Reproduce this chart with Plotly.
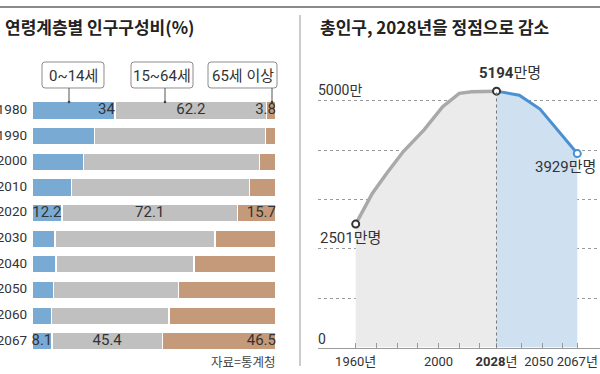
import plotly.graph_objects as go

# ---------------- data ----------------
bar_years = ["1980", "1990", "2000", "2010", "2020", "2030", "2040", "2050", "2060", "2067"]
young = [34.0, 25.6, 21.1, 16.1, 12.2, 9.5, 9.8, 8.8, 7.9, 8.1]
working = [62.2, 70.0, 72.1, 73.1, 72.1, 65.5, 56.5, 51.3, 48.2, 45.4]
old = [3.8, 4.4, 6.8, 10.8, 15.7, 25.0, 33.7, 39.9, 43.9, 46.5]
labeled_rows = ["1980", "2020", "2067"]
group_names = ["0~14세", "15~64세", "65세 이상"]

pop_years_past = [1960, 1968, 1975, 1983, 1993, 2002, 2010, 2016, 2028]
pop_past = [2501, 3120, 3530, 3970, 4410, 4880, 5150, 5180, 5194]
pop_years_future = [2028, 2039, 2049, 2058, 2067]
pop_future = [5194, 5110, 4830, 4390, 3929]
x_tickvals = [1960, 1970, 1980, 1990, 2000, 2010, 2020, 2028, 2040, 2050, 2060, 2067]
x_ticktext = ["1960년", "", "", "", "2000", "", "", "<b>2028</b>년", "", "2050\u00a0\u00a0", "", "2067년"]

# ---------------- style ----------------
W, H = 600, 374
NUM_FONT = "Roboto, Noto Sans CJK KR"
KR_FONT = "Noto Sans CJK KR"
BLUE = "#79aad4"
GRAY = "#c0c0c0"
TAN = "#c49a7a"
TXT = "#333333"


def px(x):
    return x / W


def py(y):
    return 1 - y / H


fig = go.Figure()

# ---------------- left: stacked bars ----------------
for vals, col in [(young, BLUE), (working, GRAY), (old, TAN)]:
    fig.add_trace(go.Bar(
        y=bar_years, x=vals, orientation="h", marker=dict(color=col, line=dict(color="white", width=1.5)),
        width=0.69, xaxis="x", yaxis="y", showlegend=False, hoverinfo="skip"))

# year labels left of the bars
fig.add_trace(go.Scatter(x=[-2.0] * len(bar_years), y=bar_years, text=bar_years, textposition="middle left",
                         mode="text", textfont=dict(family=NUM_FONT, size=13.5, color=TXT), cliponaxis=False,
                         xaxis="x", yaxis="y", showlegend=False, hoverinfo="skip"))

# value labels (text-only scatter on the bar axes)
lab_y, lab_x, lab_t, lab_p = [], [], [], []
for i, yr in enumerate(bar_years):
    if yr not in labeled_rows:
        continue
    if young[i] >= 20:
        lab_x.append(young[i])
        lab_p.append("middle left")
    else:
        lab_x.append(young[i] / 2)
        lab_p.append("middle center")
    lab_x += [young[i] + working[i] / 2, 100]
    lab_p += ["middle center", "middle left"]
    lab_y += [yr, yr, yr]
    lab_t += [f"{young[i]:g}", f"{working[i]:g}", f"{old[i]:g}"]
fig.add_trace(go.Scatter(x=lab_x, y=lab_y, text=lab_t, textposition=lab_p, mode="text",
                         textfont=dict(family=NUM_FONT, size=15, color=TXT), cliponaxis=False,
                         xaxis="x", yaxis="y", showlegend=False, hoverinfo="skip"))

# ---------------- right: population line ----------------
fig.add_trace(go.Scatter(x=pop_years_past, y=pop_past, mode="lines", line=dict(color="#a9a9a9", width=3.5),
                         fill="tozeroy", fillcolor="#ebebeb", xaxis="x2", yaxis="y2",
                         showlegend=False, hoverinfo="skip"))
fig.add_trace(go.Scatter(x=pop_years_future, y=pop_future, mode="lines", line=dict(color="#4a90d2", width=3),
                         fill="tozeroy", fillcolor="#cfe0f0", xaxis="x2", yaxis="y2",
                         showlegend=False, hoverinfo="skip"))
fig.add_trace(go.Scatter(x=[pop_years_past[0], pop_years_past[-1], pop_years_future[-1]],
                         y=[pop_past[0], pop_past[-1], pop_future[-1]], mode="markers",
                         marker=dict(size=7, color="white", line=dict(width=2, color=["#333333", "#333333", "#4a90d2"])),
                         xaxis="x2", yaxis="y2", showlegend=False, hoverinfo="skip", cliponaxis=False))

# ---------------- shapes ----------------
shapes = []
shapes.append(dict(type="line", xref="paper", yref="paper", x0=0, x1=1, y0=py(7), y1=py(7),
                   line=dict(color="#8a8a8a", width=2)))
shapes.append(dict(type="line", xref="paper", yref="paper", x0=px(300), x1=px(300), y0=py(15), y1=py(366),
                   line=dict(color="#999999", width=1)))
# 2028 dotted vertical
shapes.append(dict(type="line", xref="x2", yref="y2", x0=2028, x1=2028, y0=0, y1=pop_past[-1],
                   line=dict(color="#777777", width=1, dash="dot"), layer="above"))


def rrect(x0, y0, x1, y1, r=3):
    P = lambda x, y: f"{px(x):.5f},{py(y):.5f}"
    return (f"M{P(x0 + r, y0)} L{P(x1 - r, y0)} Q{P(x1, y0)} {P(x1, y0 + r)} "
            f"L{P(x1, y1 - r)} Q{P(x1, y1)} {P(x1 - r, y1)} L{P(x0 + r, y1)} "
            f"Q{P(x0, y1)} {P(x0, y1 - r)} L{P(x0, y0 + r)} Q{P(x0, y0)} {P(x0 + r, y0)} Z")


annotations = []
boxes = [(42, 104, 69), (131, 193, 165), (208, 277, 272)]
for (bx0, bx1, lx), name in zip(boxes, group_names):
    shapes.append(dict(type="path", xref="paper", yref="paper", path=rrect(bx0, 62, bx1, 88),
                       line=dict(color="#8c8c8c", width=1), fillcolor="white"))
    shapes.append(dict(type="line", xref="paper", yref="paper", x0=px(lx), x1=px(lx), y0=py(88), y1=py(102),
                       line=dict(color="#555555", width=1)))
    shapes.append(dict(type="circle", xref="paper", yref="paper", x0=px(lx - 1.3), x1=px(lx + 1.3),
                       y0=py(103.3), y1=py(100.7), line=dict(width=0), fillcolor="#444444"))
    annotations.append(dict(x=px((bx0 + bx1) / 2), y=py(75.5), xref="paper", yref="paper", text=name,
                            xanchor="center", yanchor="middle",
                            showarrow=False, font=dict(family=NUM_FONT, size=15, color=TXT)))

# ---------------- texts ----------------
annotations += [
    dict(x=px(3), y=py(26), xref="paper", yref="paper", text="<b>연령계층별 인구구성비(%)</b>", xanchor="left",
         yanchor="middle", showarrow=False, font=dict(family=KR_FONT, size=17, color="#222222")),
    dict(x=px(318), y=py(26), xref="paper", yref="paper", text="<b>총인구, 2028년을 정점으로 감소</b>", xanchor="left",
         yanchor="middle", showarrow=False, font=dict(family=KR_FONT, size=17, color="#222222")),
    dict(x=px(277), y=py(361), xref="paper", yref="paper", text="자료=통계청", xanchor="right",
         yanchor="middle", showarrow=False, font=dict(family=KR_FONT, size=12.5, color="#444444")),
    dict(x=px(316), y=py(90), xref="paper", yref="paper", text="5000만", xanchor="left",
         yanchor="middle", showarrow=False, font=dict(family=NUM_FONT, size=14, color=TXT)),
    dict(x=px(316), y=py(339), xref="paper", yref="paper", text="0", xanchor="left",
         yanchor="middle", showarrow=False, font=dict(family=NUM_FONT, size=14, color=TXT)),
    dict(x=2028, y=pop_past[-1], xref="x2", yref="y2", text="<b>5194</b>만명", xanchor="left", yanchor="middle",
         xshift=-20, yshift=18, showarrow=False, font=dict(family=NUM_FONT, size=15, color=TXT)),
    dict(x=pop_years_future[-1], y=pop_future[-1], xref="x2", yref="y2", text="3929만명", xanchor="right",
         yanchor="middle", xshift=21, yshift=-13, showarrow=False, font=dict(family=NUM_FONT, size=15, color=TXT)),
    dict(x=pop_years_past[0], y=pop_past[0], xref="x2", yref="y2", text="2501만명", xanchor="left",
         yanchor="middle", xshift=-38, yshift=-14, showarrow=False, font=dict(family=NUM_FONT, size=15, color=TXT)),
]

# ---------------- layout ----------------
BAR_X0, BAR_X1 = 32, 276          # pixel extent of the 0..100 % bars
left_pad = BAR_X0 / (BAR_X1 - BAR_X0) * 100
fig.update_layout(
    width=W, height=H, margin=dict(l=0, r=0, t=0, b=0, autoexpand=False), paper_bgcolor="white",
    plot_bgcolor="white",
    barmode="stack", bargap=0.31, shapes=shapes, annotations=annotations,
    xaxis=dict(domain=[0, px(BAR_X1)], range=[-left_pad, 100], showgrid=False, zeroline=False, showline=False,
               showticklabels=False, ticks="", fixedrange=True),
    yaxis=dict(domain=[py(354.1), py(97.7)], type="category", categoryorder="array", categoryarray=bar_years,
               range=[9.5, -0.5], showgrid=False, zeroline=False, showline=False, ticks="",
               showticklabels=False),
    xaxis2=dict(domain=[px(318), 1.0], range=[1960 - (355.7 - 318) / 2.071, 2067 + (600 - 577.3) / 2.071],
                anchor="y2", tickvals=x_tickvals, ticktext=x_ticktext, ticks="inside", ticklen=5, tickangle=0,
                tickcolor="#999999", showline=True, linecolor="#9a9a9a", linewidth=1.5, showgrid=False,
                zeroline=False, tickfont=dict(family=NUM_FONT, size=13, color=TXT), ticklabelstandoff=1),
    yaxis2=dict(domain=[py(347.5), py(71.1)], range=[0, 5600], anchor="x2", tickvals=[1000, 2000, 3000, 4000, 5000],
                showticklabels=False, showgrid=True, gridcolor="#9a9a9a", griddash="dot", gridwidth=1,
                zeroline=False, showline=False),
)

fig.write_html("out.html", config={"displayModeBar": False, "staticPlot": True},
               post_script="document.body.style.margin='0px';document.body.style.overflow='hidden';")
